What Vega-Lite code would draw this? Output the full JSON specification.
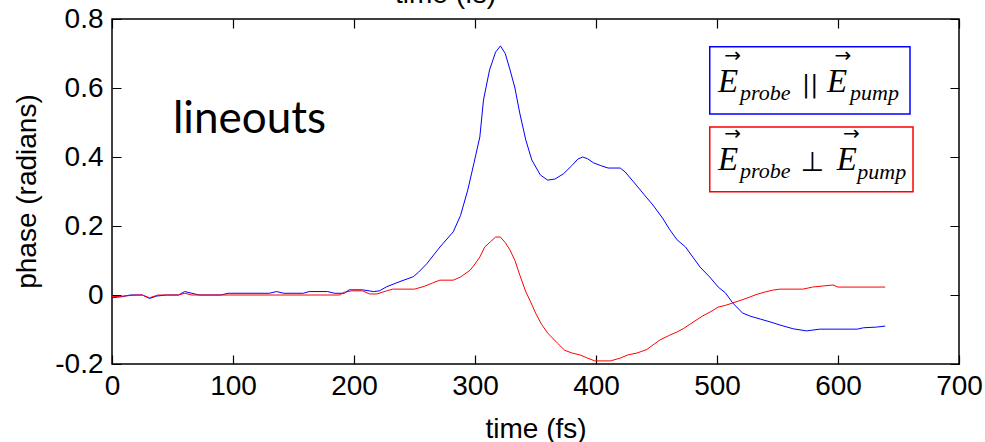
{
  "$schema": "https://vega.github.io/schema/vega-lite/v6.json",
  "autosize": {"type": "none"},
  "width": 847,
  "height": 345,
  "padding": {"top": 19, "left": 112, "right": 26, "bottom": 78},
  "background": "white",
  "config": {
    "view": {"stroke": "black", "strokeWidth": 1.5},
    "axis": {
      "labelFont": "Liberation Sans", "labelFontSize": 28, "labelColor": "black",
      "titleFont": "Liberation Sans", "titleFontSize": 28, "titleFontWeight": "normal", "titleColor": "black",
      "domain": false, "ticks": false, "tickSize": 0,
      "grid": false, "gridColor": "black", "gridOpacity": 1, "gridWidth": 1.2,
      "labelFlush": false, "labelOverlap": false
    }
  },
  "datasets": {
    "lines": [
      {"t":0,"v":-0.008,"s":"parallel"},{"t":8,"v":-0.005,"s":"parallel"},{"t":15,"v":0,"s":"parallel"},{"t":25,"v":0,"s":"parallel"},{"t":31,"v":-0.01,"s":"parallel"},{"t":37,"v":-0.003,"s":"parallel"},{"t":45,"v":0,"s":"parallel"},{"t":55,"v":0,"s":"parallel"},{"t":60,"v":0.01,"s":"parallel"},{"t":66,"v":0.005,"s":"parallel"},{"t":72,"v":0,"s":"parallel"},{"t":90,"v":0,"s":"parallel"},{"t":96,"v":0.005,"s":"parallel"},{"t":130,"v":0.005,"s":"parallel"},{"t":136,"v":0.01,"s":"parallel"},{"t":142,"v":0.005,"s":"parallel"},{"t":158,"v":0.005,"s":"parallel"},{"t":163,"v":0.01,"s":"parallel"},{"t":178,"v":0.01,"s":"parallel"},{"t":184,"v":0.005,"s":"parallel"},{"t":192,"v":0.005,"s":"parallel"},{"t":196,"v":0.015,"s":"parallel"},{"t":207,"v":0.015,"s":"parallel"},{"t":216,"v":0.01,"s":"parallel"},{"t":221,"v":0.012,"s":"parallel"},{"t":227,"v":0.024,"s":"parallel"},{"t":238,"v":0.039,"s":"parallel"},{"t":249,"v":0.053,"s":"parallel"},{"t":253,"v":0.065,"s":"parallel"},{"t":260,"v":0.09,"s":"parallel"},{"t":271,"v":0.139,"s":"parallel"},{"t":282,"v":0.183,"s":"parallel"},{"t":288,"v":0.23,"s":"parallel"},{"t":294,"v":0.304,"s":"parallel"},{"t":299,"v":0.38,"s":"parallel"},{"t":304,"v":0.458,"s":"parallel"},{"t":307,"v":0.565,"s":"parallel"},{"t":312,"v":0.652,"s":"parallel"},{"t":317,"v":0.704,"s":"parallel"},{"t":321,"v":0.722,"s":"parallel"},{"t":325,"v":0.7,"s":"parallel"},{"t":329,"v":0.652,"s":"parallel"},{"t":333,"v":0.6,"s":"parallel"},{"t":337,"v":0.527,"s":"parallel"},{"t":342,"v":0.449,"s":"parallel"},{"t":347,"v":0.391,"s":"parallel"},{"t":354,"v":0.348,"s":"parallel"},{"t":360,"v":0.333,"s":"parallel"},{"t":366,"v":0.336,"s":"parallel"},{"t":373,"v":0.351,"s":"parallel"},{"t":380,"v":0.375,"s":"parallel"},{"t":385,"v":0.394,"s":"parallel"},{"t":389,"v":0.4,"s":"parallel"},{"t":393,"v":0.395,"s":"parallel"},{"t":398,"v":0.383,"s":"parallel"},{"t":404,"v":0.375,"s":"parallel"},{"t":410,"v":0.368,"s":"parallel"},{"t":420,"v":0.368,"s":"parallel"},{"t":424,"v":0.357,"s":"parallel"},{"t":431,"v":0.328,"s":"parallel"},{"t":440,"v":0.29,"s":"parallel"},{"t":447,"v":0.261,"s":"parallel"},{"t":455,"v":0.223,"s":"parallel"},{"t":461,"v":0.189,"s":"parallel"},{"t":467,"v":0.16,"s":"parallel"},{"t":474,"v":0.139,"s":"parallel"},{"t":480,"v":0.11,"s":"parallel"},{"t":486,"v":0.081,"s":"parallel"},{"t":494,"v":0.052,"s":"parallel"},{"t":501,"v":0.023,"s":"parallel"},{"t":507,"v":0.006,"s":"parallel"},{"t":513,"v":-0.023,"s":"parallel"},{"t":521,"v":-0.052,"s":"parallel"},{"t":528,"v":-0.062,"s":"parallel"},{"t":536,"v":-0.07,"s":"parallel"},{"t":544,"v":-0.078,"s":"parallel"},{"t":552,"v":-0.087,"s":"parallel"},{"t":563,"v":-0.098,"s":"parallel"},{"t":574,"v":-0.104,"s":"parallel"},{"t":585,"v":-0.099,"s":"parallel"},{"t":616,"v":-0.099,"s":"parallel"},{"t":621,"v":-0.095,"s":"parallel"},{"t":632,"v":-0.093,"s":"parallel"},{"t":639,"v":-0.09,"s":"parallel"},
      {"t":0,"v":-0.005,"s":"perpendicular"},{"t":10,"v":-0.003,"s":"perpendicular"},{"t":20,"v":0,"s":"perpendicular"},{"t":25,"v":0,"s":"perpendicular"},{"t":31,"v":-0.008,"s":"perpendicular"},{"t":38,"v":0,"s":"perpendicular"},{"t":55,"v":0,"s":"perpendicular"},{"t":60,"v":0.005,"s":"perpendicular"},{"t":66,"v":0,"s":"perpendicular"},{"t":90,"v":0,"s":"perpendicular"},{"t":188,"v":0,"s":"perpendicular"},{"t":192,"v":0.008,"s":"perpendicular"},{"t":198,"v":0.012,"s":"perpendicular"},{"t":207,"v":0.012,"s":"perpendicular"},{"t":213,"v":0.003,"s":"perpendicular"},{"t":219,"v":0.003,"s":"perpendicular"},{"t":227,"v":0.012,"s":"perpendicular"},{"t":232,"v":0.017,"s":"perpendicular"},{"t":250,"v":0.017,"s":"perpendicular"},{"t":258,"v":0.025,"s":"perpendicular"},{"t":265,"v":0.035,"s":"perpendicular"},{"t":271,"v":0.043,"s":"perpendicular"},{"t":282,"v":0.043,"s":"perpendicular"},{"t":288,"v":0.052,"s":"perpendicular"},{"t":296,"v":0.072,"s":"perpendicular"},{"t":300,"v":0.09,"s":"perpendicular"},{"t":304,"v":0.11,"s":"perpendicular"},{"t":308,"v":0.139,"s":"perpendicular"},{"t":313,"v":0.155,"s":"perpendicular"},{"t":317,"v":0.168,"s":"perpendicular"},{"t":321,"v":0.168,"s":"perpendicular"},{"t":325,"v":0.152,"s":"perpendicular"},{"t":329,"v":0.13,"s":"perpendicular"},{"t":333,"v":0.1,"s":"perpendicular"},{"t":337,"v":0.058,"s":"perpendicular"},{"t":342,"v":0.009,"s":"perpendicular"},{"t":346,"v":-0.02,"s":"perpendicular"},{"t":350,"v":-0.052,"s":"perpendicular"},{"t":355,"v":-0.085,"s":"perpendicular"},{"t":360,"v":-0.11,"s":"perpendicular"},{"t":368,"v":-0.139,"s":"perpendicular"},{"t":374,"v":-0.16,"s":"perpendicular"},{"t":380,"v":-0.168,"s":"perpendicular"},{"t":387,"v":-0.174,"s":"perpendicular"},{"t":393,"v":-0.183,"s":"perpendicular"},{"t":399,"v":-0.191,"s":"perpendicular"},{"t":412,"v":-0.191,"s":"perpendicular"},{"t":420,"v":-0.183,"s":"perpendicular"},{"t":426,"v":-0.174,"s":"perpendicular"},{"t":434,"v":-0.168,"s":"perpendicular"},{"t":442,"v":-0.158,"s":"perpendicular"},{"t":447,"v":-0.145,"s":"perpendicular"},{"t":453,"v":-0.13,"s":"perpendicular"},{"t":460,"v":-0.118,"s":"perpendicular"},{"t":467,"v":-0.107,"s":"perpendicular"},{"t":472,"v":-0.098,"s":"perpendicular"},{"t":478,"v":-0.084,"s":"perpendicular"},{"t":488,"v":-0.061,"s":"perpendicular"},{"t":495,"v":-0.048,"s":"perpendicular"},{"t":501,"v":-0.035,"s":"perpendicular"},{"t":507,"v":-0.03,"s":"perpendicular"},{"t":513,"v":-0.023,"s":"perpendicular"},{"t":520,"v":-0.015,"s":"perpendicular"},{"t":527,"v":-0.006,"s":"perpendicular"},{"t":533,"v":0.002,"s":"perpendicular"},{"t":540,"v":0.009,"s":"perpendicular"},{"t":546,"v":0.014,"s":"perpendicular"},{"t":552,"v":0.017,"s":"perpendicular"},{"t":571,"v":0.017,"s":"perpendicular"},{"t":579,"v":0.023,"s":"perpendicular"},{"t":590,"v":0.027,"s":"perpendicular"},{"t":596,"v":0.029,"s":"perpendicular"},{"t":600,"v":0.023,"s":"perpendicular"},{"t":639,"v":0.023,"s":"perpendicular"}
    ],
    "boxes": [
      {"t1":494,"t2":659.5,"v1":0.7195,"v2":0.525,"s":"parallel"},
      {"t1":494,"t2":662,"v1":0.487,"v2":0.299,"s":"perpendicular"}
    ],
    "notes": [
      {"t":50.4,"v":0.47,"text":"lineouts","kind":"label"},
      {"t":500.8,"v":0.589,"text":"E","kind":"E"},
      {"t":591,"v":0.589,"text":"E","kind":"E"},
      {"t":500.8,"v":0.363,"text":"E","kind":"E"},
      {"t":599,"v":0.363,"text":"E","kind":"E"},
      {"t":519,"v":0.566,"text":"probe","kind":"sub"},
      {"t":610,"v":0.566,"text":"pump","kind":"sub"},
      {"t":519,"v":0.339,"text":"probe","kind":"sub"},
      {"t":616,"v":0.336,"text":"pump","kind":"sub"},
      {"t":577,"v":0.588,"text":"||","kind":"bars"},
      {"t":579,"v":0.36,"text":"⊥","kind":"perp"},
      {"t":513,"v":0.694,"text":"→","kind":"arrow"},
      {"t":604,"v":0.694,"text":"→","kind":"arrow"},
      {"t":513,"v":0.467,"text":"→","kind":"arrow"},
      {"t":611,"v":0.467,"text":"→","kind":"arrow"}
    ]
  },
  "resolve": {"axis": {"x": "independent", "y": "independent"}},
  "layer": [
    {
      "data": {"name": "lines"},
      "mark": {"type": "line", "strokeWidth": 1, "interpolate": "linear"},
      "encoding": {
        "x": {"field": "t", "type": "quantitative", "scale": {"domain": [0, 700], "nice": false},
              "axis": {"orient": "bottom", "values": [0,100,200,300,400,500,600,700], "title": "time (fs)",
                       "grid": true, "gridDash": [9, 327, 9],
                       "labelPadding": 8, "titleY": 73, "titleBaseline": "alphabetic"}},
        "y": {"field": "v", "type": "quantitative", "scale": {"domain": [-0.2, 0.8], "nice": false, "zero": false},
              "axis": {"orient": "left", "values": [-0.2,0,0.2,0.4,0.6,0.8], "title": "phase (radians)",
                       "grid": true, "gridDash": [9, 829, 9],
                       "labelPadding": 9,
                       "labelExpr": "datum.value == 0 ? '0' : (datum.value < 0 ? '-' : '') + format(abs(datum.value), '.1f')",
                       "titleX": -85, "titleY": 172, "titleBaseline": "middle", "titleAlign": "center", "titleAngle": -90}},
        "color": {"field": "s", "type": "nominal", "scale": {"domain": ["parallel", "perpendicular"], "range": ["#0000ff", "#ff0000"]}, "legend": null}
      }
    },
    {
      "data": {"name": "boxes"},
      "mark": {"type": "rect", "fill": null, "strokeWidth": 1.5},
      "encoding": {
        "x": {"field": "t1", "type": "quantitative", "scale": {"domain": [0, 700], "nice": false}, "axis": null},
        "x2": {"field": "t2"},
        "y": {"field": "v1", "type": "quantitative", "scale": {"domain": [-0.2, 0.8], "nice": false, "zero": false}, "axis": null},
        "y2": {"field": "v2"},
        "stroke": {"field": "s", "type": "nominal", "scale": {"domain": ["parallel", "perpendicular"], "range": ["#0000ff", "#ff0000"]}, "legend": null}
      }
    },
    {
      "data": {"name": "notes"},
      "transform": [{"filter": "datum.kind == 'label'"}],
      "mark": {"type": "text", "font": "Lato", "fontSize": 44, "align": "left", "baseline": "alphabetic", "color": "black"},
      "encoding": {
        "x": {"field": "t", "type": "quantitative", "scale": {"domain": [0, 700], "nice": false},
              "axis": {"orient": "top", "values": [0,100,200,300,400,500,600,700], "labels": false, "title": "time (fs)",
                       "titleX": 333, "titleY": -17, "titleBaseline": "alphabetic"}},
        "y": {"field": "v", "type": "quantitative", "scale": {"domain": [-0.2, 0.8], "nice": false, "zero": false}, "axis": null},
        "text": {"field": "text"}
      }
    },
    {
      "data": {"name": "notes"},
      "transform": [{"filter": "datum.kind == 'E'"}],
      "mark": {"type": "text", "font": "Liberation Serif", "fontStyle": "italic", "fontSize": 33, "align": "left", "baseline": "alphabetic", "color": "black"},
      "encoding": {
        "x": {"field": "t", "type": "quantitative", "scale": {"domain": [0, 700], "nice": false}, "axis": null},
        "y": {"field": "v", "type": "quantitative", "scale": {"domain": [-0.2, 0.8], "nice": false, "zero": false}, "axis": null},
        "text": {"field": "text"}
      }
    },
    {
      "data": {"name": "notes"},
      "transform": [{"filter": "datum.kind == 'sub'"}],
      "mark": {"type": "text", "font": "Liberation Serif", "fontStyle": "italic", "fontSize": 22, "align": "left", "baseline": "alphabetic", "color": "black"},
      "encoding": {
        "x": {"field": "t", "type": "quantitative", "scale": {"domain": [0, 700], "nice": false}, "axis": null},
        "y": {"field": "v", "type": "quantitative", "scale": {"domain": [-0.2, 0.8], "nice": false, "zero": false}, "axis": null},
        "text": {"field": "text"}
      }
    },
    {
      "data": {"name": "notes"},
      "transform": [{"filter": "datum.kind == 'bars'"}],
      "mark": {"type": "text", "font": "DejaVu Serif", "fontSize": 24, "align": "center", "baseline": "alphabetic", "color": "black"},
      "encoding": {
        "x": {"field": "t", "type": "quantitative", "scale": {"domain": [0, 700], "nice": false}, "axis": null},
        "y": {"field": "v", "type": "quantitative", "scale": {"domain": [-0.2, 0.8], "nice": false, "zero": false}, "axis": null},
        "text": {"field": "text"}
      }
    },
    {
      "data": {"name": "notes"},
      "transform": [{"filter": "datum.kind == 'perp'"}],
      "mark": {"type": "text", "font": "DejaVu Sans", "fontSize": 27, "align": "center", "baseline": "alphabetic", "color": "black"},
      "encoding": {
        "x": {"field": "t", "type": "quantitative", "scale": {"domain": [0, 700], "nice": false}, "axis": null},
        "y": {"field": "v", "type": "quantitative", "scale": {"domain": [-0.2, 0.8], "nice": false, "zero": false}, "axis": null},
        "text": {"field": "text"}
      }
    },
    {
      "data": {"name": "notes"},
      "transform": [{"filter": "datum.kind == 'arrow'"}],
      "mark": {"type": "text", "font": "DejaVu Sans", "fontSize": 20, "align": "center", "baseline": "middle", "color": "black"},
      "encoding": {
        "x": {"field": "t", "type": "quantitative", "scale": {"domain": [0, 700], "nice": false}, "axis": null},
        "y": {"field": "v", "type": "quantitative", "scale": {"domain": [-0.2, 0.8], "nice": false, "zero": false}, "axis": null},
        "text": {"field": "text"}
      }
    }
  ]
}
